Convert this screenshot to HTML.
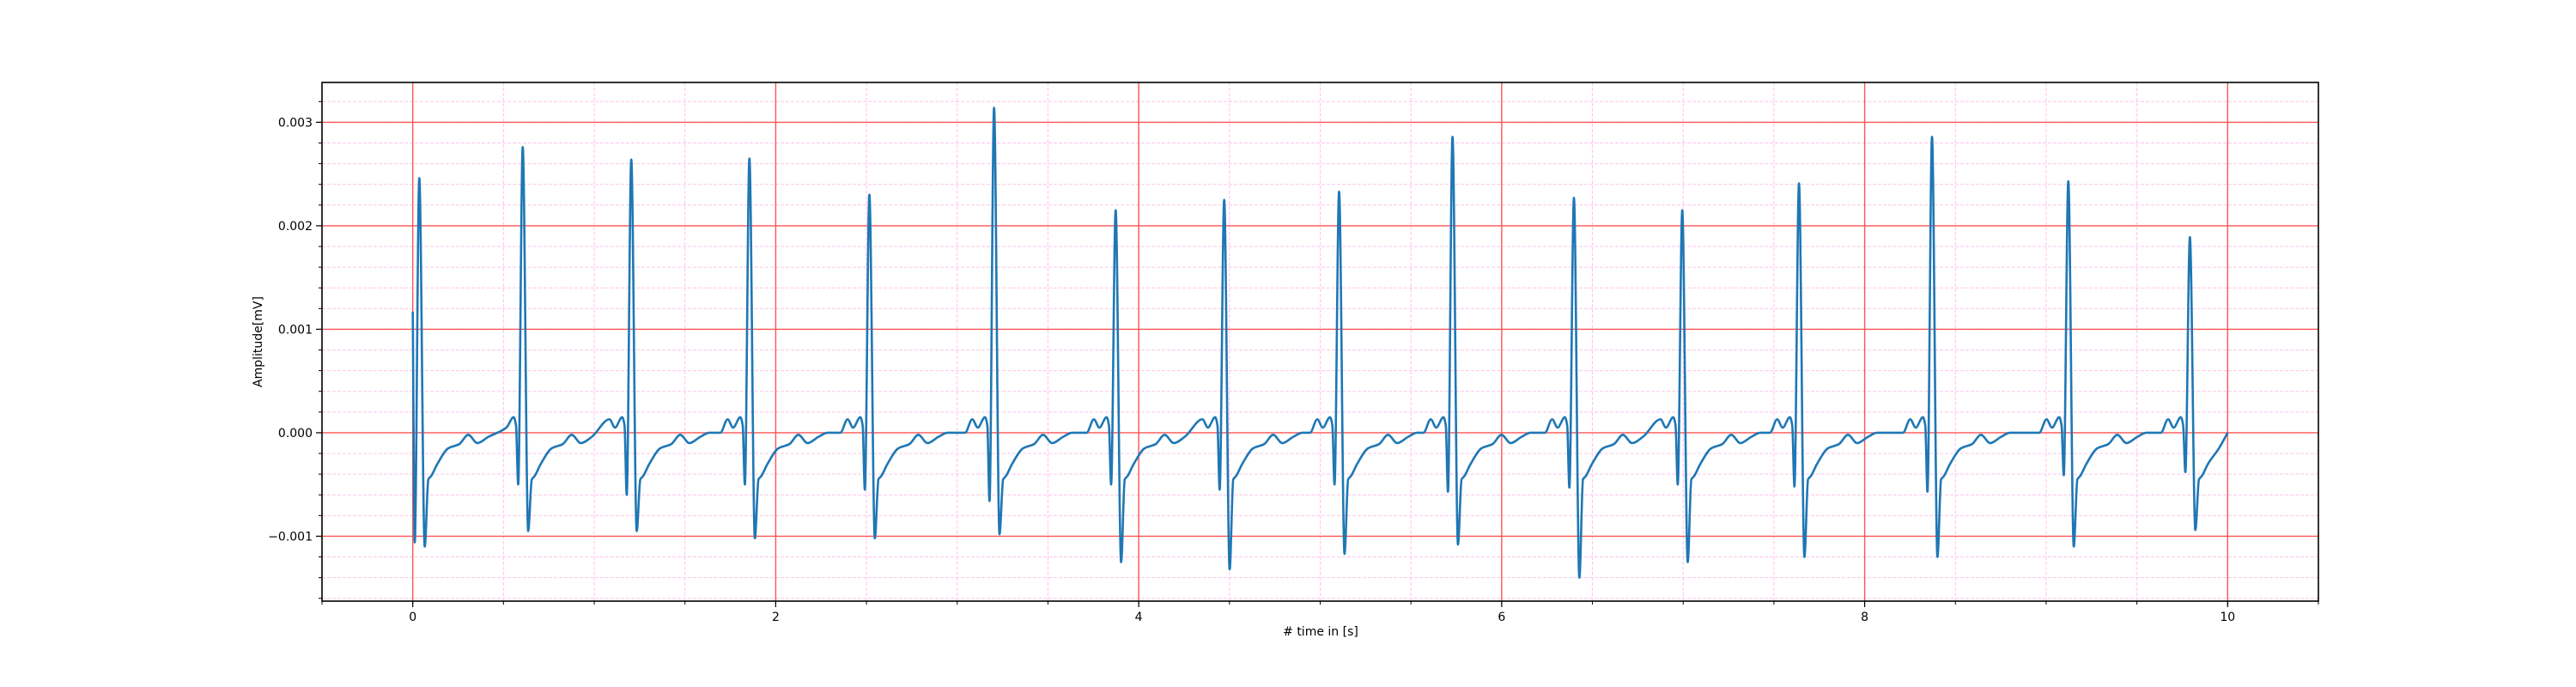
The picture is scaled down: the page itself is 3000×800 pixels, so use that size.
<!DOCTYPE html>
<html><head><meta charset="utf-8"><style>
html,body{margin:0;padding:0;background:#fff;}
svg{display:block;font-family:"DejaVu Sans","Liberation Sans",sans-serif;}
</style></head><body>
<svg id="chart" width="3000" height="800" viewBox="0 0 3000 800" xmlns="http://www.w3.org/2000/svg">
<rect width="3000" height="800" fill="#fff"/>
<g id="grid"></g>
<g id="ticks"></g>
<g id="series"></g>
<rect x="375" y="96" width="2325" height="604" fill="none" stroke="#000" stroke-width="1.6"/>
<text x="1538" y="740" font-size="14" text-anchor="middle"># time in [s]</text>
<text x="305" y="398" font-size="14" text-anchor="middle" transform="rotate(-90 305 398)">Amplitude[mV]</text>
</svg>
<script>
// beat data
const rTimes = [0.036,0.606,1.204,1.855,2.516,3.203,3.873,4.471,5.104,5.729,6.398,6.995,7.638,8.371,9.122,9.792];
const rAmps  = [0.00246,0.00276,0.00264,0.00265,0.0023,0.00314,0.00215,0.00225,0.00233,0.00286,0.00227,0.00215,0.00241,0.00286,0.00243,0.00189];
const qAmps  = [-0.00106,-0.0005,-0.0006,-0.0005,-0.00055,-0.00066,-0.0005,-0.00055,-0.0005,-0.00057,-0.00053,-0.0005,-0.00052,-0.00057,-0.00041,-0.00038];
const sAmps  = [-0.0011,-0.00095,-0.00095,-0.00102,-0.00102,-0.00098,-0.00125,-0.00132,-0.00117,-0.00108,-0.0014,-0.00125,-0.0012,-0.0012,-0.0011,-0.00094];
// waveform shape around each beat (dt seconds, value in 1e-4 mV)
const postDt  = [0.05,0.065,0.1,0.16,0.22,0.27,0.32,0.38,0.43];
const postVal = [-4.5,-4.2,-3.0,-1.5,-1.1,-0.2,-1.0,-0.4,0.0];
const preDt   = [-0.16,-0.12,-0.09,-0.05,-0.037];
const preVal  = [0.0,1.3,0.5,1.5,0.7];
const startVal = 0.00117, endVal = 0.0;
const xTicks = [0,2,4,6,8,10];
const yTicks = [-0.001,0,0.001,0.002,0.003];
const yTickLabels = ["\u22120.001","0.000","0.001","0.002","0.003"];

const X0=375,X1=2700,Y0=96,Y1=700, xmin=-0.5,xmax=10.5, ymin=-0.001627,ymax=0.003385;
const sx=t=>X0+(t-xmin)/(xmax-xmin)*(X1-X0);
const sy=v=>Y1-(v-ymin)/(ymax-ymin)*(Y1-Y0);
const NS="http://www.w3.org/2000/svg";
function mk(tag,attrs,parent){const e=document.createElementNS(NS,tag);for(const k in attrs)e.setAttribute(k,attrs[k]);parent.appendChild(e);return e;}
const grid=document.getElementById('grid'), ticks=document.getElementById('ticks'), series=document.getElementById('series');

for(let i=-1;i<=21;i++){const t=i*0.5;if(t<xmin||t>xmax)continue;
  const l=mk('line',{x1:sx(t),x2:sx(t),y1:Y0,y2:Y1,stroke:'#ffc4ec','stroke-width':1,'stroke-dasharray':'4,2'},grid);
  
  
  const tk=mk('line',{x1:sx(t),x2:sx(t),y1:Y1,y2:Y1+4,stroke:'#000','stroke-width':1},ticks);
  
  }
for(let i=-8;i<=17;i++){const v=i*0.0002;if(v<ymin||v>ymax)continue;
  const l=mk('line',{x1:X0,x2:X1,y1:sy(v),y2:sy(v),stroke:'#ffc4ec','stroke-width':1,'stroke-dasharray':'4,2'},grid);
  
  
  const tk=mk('line',{x1:X0-4,x2:X0,y1:sy(v),y2:sy(v),stroke:'#000','stroke-width':1},ticks);
  
  }
xTicks.forEach(t=>{
  const l=mk('line',{x1:sx(t),x2:sx(t),y1:Y0,y2:Y1,stroke:'#ff5555','stroke-width':1.4},grid);
  
  
  const tk=mk('line',{x1:sx(t),x2:sx(t),y1:Y1,y2:Y1+7,stroke:'#000','stroke-width':1.2},ticks);
  
  
  const tx=mk('text',{x:sx(t),y:Y1+23,'font-size':14,'text-anchor':'middle'},ticks);tx.textContent=String(t);
  
  
});
yTicks.forEach((v,i)=>{
  const l=mk('line',{x1:X0,x2:X1,y1:sy(v),y2:sy(v),stroke:'#ff5555','stroke-width':1.4},grid);
  
  
  const tk=mk('line',{x1:X0-7,x2:X0,y1:sy(v),y2:sy(v),stroke:'#000','stroke-width':1.2},ticks);
  
  
  const tx=mk('text',{x:X0-11,y:sy(v)+5,'font-size':14,'text-anchor':'end'},ticks);tx.textContent=yTickLabels[i];
  
  
});

// build signal
const pts=[[0,startVal]];
for(let b=0;b<rTimes.length;b++){
  const r=rTimes[b];
  const prevEnd = b>0 ? rTimes[b-1]+0.45 : 0.005;
  if(b>0){for(let k=0;k<preDt.length;k++){const t=r+preDt[k];if(t>prevEnd)pts.push([t,preVal[k]*1e-4]);}}
  pts.push([r-0.025,qAmps[b]]);
  pts.push([r,rAmps[b]]);
  pts.push([r+0.03,sAmps[b]]);
  const last = b===rTimes.length-1;
  const limit = last ? 9.985 : rTimes[b+1]-0.17;
  for(let k=0;k<postDt.length;k++){const t=r+postDt[k];if(t<limit)pts.push([t,postVal[k]*1e-4]);}
}
pts.push([10.0,endVal]);
// monotone cubic (no overshoot)
const P=pts.map(p=>[sx(p[0]),sy(p[1])]);
const n=P.length, dl=[], m=[];
for(let i=0;i<n-1;i++)dl.push((P[i+1][1]-P[i][1])/(P[i+1][0]-P[i][0]));
for(let i=0;i<n;i++){
  if(i===0)m.push(dl[0]);else if(i===n-1)m.push(dl[n-2]);
  else if(dl[i-1]*dl[i]<=0)m.push(0);
  else{const h0=P[i][0]-P[i-1][0],h1=P[i+1][0]-P[i][0];const w1=2*h1+h0,w2=h1+2*h0;m.push((w1+w2)/(w1/dl[i-1]+w2/dl[i]));}
}
let d='M'+P[0][0].toFixed(1)+','+P[0][1].toFixed(1);
for(let i=0;i<n-1;i++){
  const h=(P[i+1][0]-P[i][0])/3;
  d+=' C'+(P[i][0]+h).toFixed(2)+','+(P[i][1]+m[i]*h).toFixed(2)+' '+(P[i+1][0]-h).toFixed(2)+','+(P[i+1][1]-m[i+1]*h).toFixed(2)+' '+P[i+1][0].toFixed(2)+','+P[i+1][1].toFixed(2);
}
const line=mk('path',{d:d,fill:'none',stroke:'#1f77b4','stroke-width':2.6,'stroke-linejoin':'round'},series);


</script>
</body></html>
